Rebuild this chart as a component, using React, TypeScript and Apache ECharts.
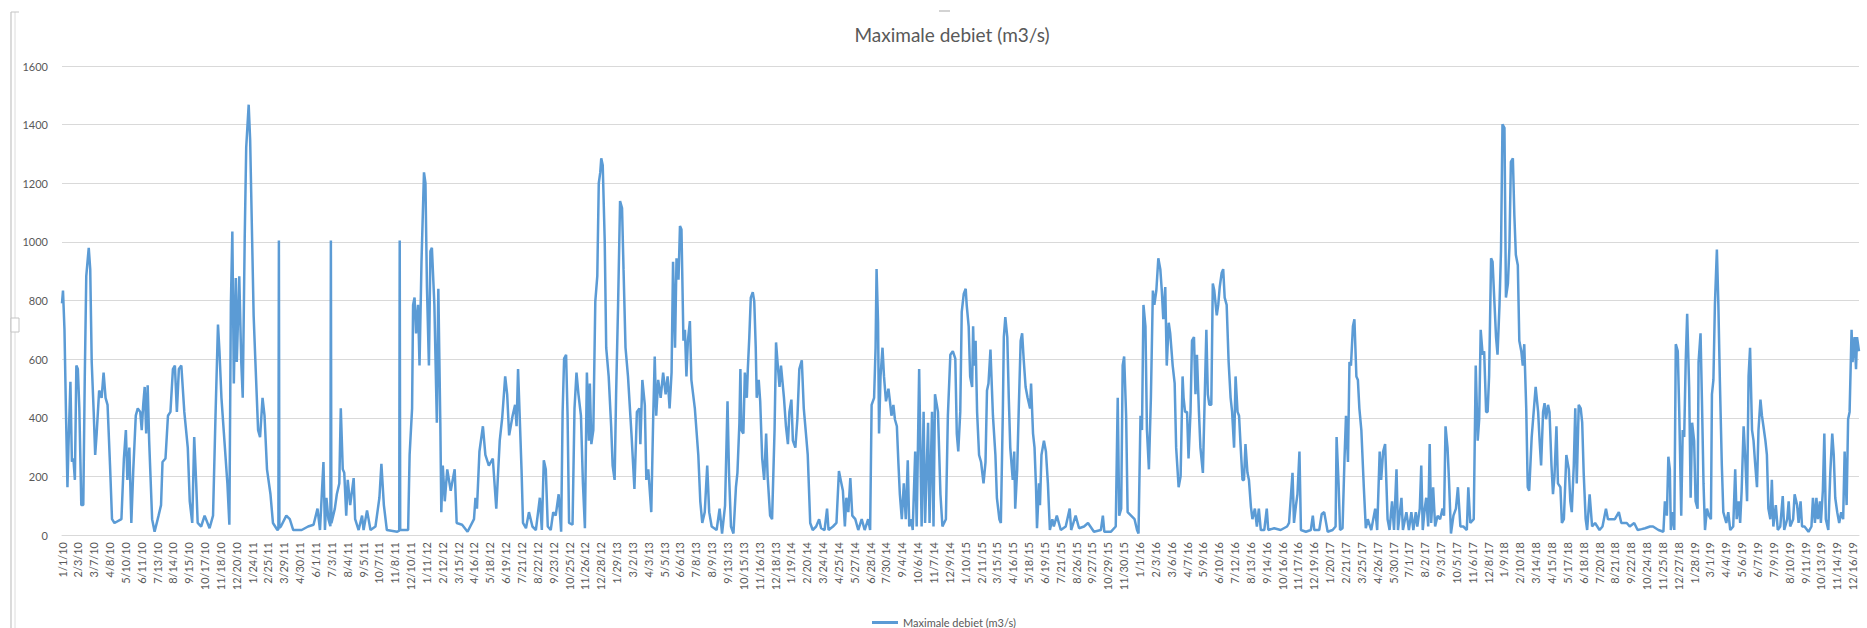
import { useEffect, useRef } from "react";
import * as echarts from "echarts";

// X-axis tick labels (every 32nd data row is labelled, as in the source sheet)
const tickLabels: string[] = [
  "1/1/10", "2/3/10", "3/7/10", "4/8/10", "5/10/10", "6/11/10", "7/13/10", "8/14/10", "9/15/10", "10/17/10", "11/18/10", "12/20/10",
  "1/24/11", "2/25/11", "3/29/11", "4/30/11", "6/1/11", "7/3/11", "8/4/11", "9/5/11", "10/7/11", "11/8/11", "12/10/11",
  "1/11/12", "2/12/12", "3/15/12", "4/16/12", "5/18/12", "6/19/12", "7/21/12", "8/22/12", "9/23/12", "10/25/12", "11/26/12", "12/28/12",
  "1/29/13", "3/2/13", "4/3/13", "5/5/13", "6/6/13", "7/8/13", "8/9/13", "9/13/13", "10/15/13", "11/16/13", "12/18/13",
  "1/19/14", "2/20/14", "3/24/14", "4/25/14", "5/27/14", "6/28/14", "7/30/14", "9/4/14", "10/6/14", "11/7/14", "12/9/14",
  "1/10/15", "2/11/15", "3/15/15", "4/16/15", "5/18/15", "6/19/15", "7/21/15", "8/26/15", "9/27/15", "10/29/15", "11/30/15",
  "1/1/16", "2/3/16", "3/6/16", "4/7/16", "5/9/16", "6/10/16", "7/12/16", "8/13/16", "9/14/16", "10/16/16", "11/17/16", "12/19/16",
  "1/20/17", "2/21/17", "3/25/17", "4/26/17", "5/30/17", "7/1/17", "8/2/17", "9/3/17", "10/5/17", "11/6/17", "12/8/17",
  "1/9/18", "2/10/18", "3/14/18", "4/15/18", "5/17/18", "6/18/18", "7/20/18", "8/21/18", "9/22/18", "10/24/18", "11/25/18", "12/27/18",
  "1/28/19", "3/1/19", "4/4/19", "5/6/19", "6/7/19", "7/9/19", "8/10/19", "9/11/19", "10/13/19", "11/14/19", "12/16/19",
];
const rowsPerTick = 32;
const rowCount = 3630;

const seriesName = "Maximale debiet (m3/s)";

// [data row, max discharge m3/s]
const flow2010: [number, number][] = [
  [0, 790], [2, 834], [5, 700], [8, 420], [11, 163], [13, 300], [17, 523], [20, 250], [23, 261], [26, 188], [29, 578], [32, 566],
  [35, 432], [39, 102], [43, 102], [46, 541], [49, 883], [54, 980], [57, 907], [60, 590], [64, 420], [67, 273], [70, 346], [75, 493],
  [80, 468], [84, 554], [88, 468], [92, 444], [97, 237], [101, 54], [106, 41], [120, 54], [125, 261], [129, 358], [132, 188], [136, 298],
  [140, 41], [144, 224], [149, 407], [153, 432], [158, 420], [161, 358], [164, 444], [167, 505], [170, 346], [173, 511], [176, 322],
  [182, 54], [187, 11], [195, 66], [200, 102], [203, 249], [209, 261], [214, 407], [219, 420], [224, 566], [228, 578], [232, 420],
  [236, 566], [241, 578], [247, 420], [254, 298], [258, 115], [263, 41], [267, 334], [271, 176], [274, 41], [281, 29], [288, 66],
  [298, 23], [305, 66], [310, 407], [315, 718], [318, 627], [322, 468], [327, 346], [334, 176], [338, 35], [341, 785], [344, 1035],
  [347, 517], [351, 877], [353, 590], [358, 883], [362, 590],
];
const flow2011: [number, number][] = [
  [365, 468], [369, 1017], [372, 1322], [377, 1468], [380, 1346], [384, 1005], [387, 749], [390, 615], [396, 358], [400, 334],
  [405, 468], [409, 407], [414, 224], [421, 139], [426, 41], [435, 17], [437, 20], [438, 1005], [439, 25], [442, 29], [453, 66],
  [460, 54], [467, 17], [484, 17], [497, 29], [508, 35], [516, 90], [521, 17], [528, 249], [531, 17], [534, 127], [538, 54],
  [542, 30], [543, 1005], [544, 40], [546, 54], [551, 90], [555, 139], [560, 176], [563, 432], [567, 224], [570, 212], [574, 66],
  [577, 188], [582, 102], [589, 194], [592, 54], [599, 17], [606, 66], [609, 17], [616, 84], [623, 17], [633, 29], [641, 127],
  [645, 243], [650, 102], [656, 17], [677, 11], [681, 15], [682, 1005], [683, 17], [699, 17], [702, 273], [707, 432], [709, 785],
  [712, 810], [715, 688], [719, 785], [722, 578],
];
const flow2012: [number, number][] = [
  [726, 932], [731, 1237], [734, 1200], [737, 846], [741, 578], [744, 968], [747, 980], [752, 785], [757, 383], [760, 840],
  [764, 383], [766, 78], [769, 237], [773, 115], [778, 224], [785, 151], [793, 224], [797, 41], [808, 35], [819, 11], [832, 54],
  [835, 127], [838, 90], [843, 285], [850, 371], [855, 273], [862, 237], [870, 261], [877, 90], [884, 322], [889, 400], [895, 541],
  [899, 480], [903, 340], [910, 407], [915, 444], [918, 371], [921, 566], [924, 420], [928, 224], [931, 41], [937, 23], [943, 78],
  [950, 29], [957, 17], [965, 127], [969, 17], [973, 255], [977, 224], [981, 29], [987, 17], [992, 78], [997, 66], [1003, 139],
  [1008, 11], [1011, 420], [1014, 602], [1018, 615], [1021, 407], [1024, 41], [1031, 35], [1035, 432], [1039, 554], [1043, 480],
  [1048, 407], [1052, 176], [1056, 23], [1058, 298], [1060, 554], [1064, 322], [1066, 517], [1069, 310], [1073, 358], [1077, 797],
  [1081, 883], [1084, 1200], [1087, 1237], [1089, 1285],
];
const flow2013: [number, number][] = [
  [1092, 1261], [1096, 1005], [1099, 639], [1104, 541], [1109, 371], [1112, 237], [1116, 188], [1119, 480], [1123, 785], [1127, 1139],
  [1131, 1115], [1134, 907], [1138, 639], [1143, 541], [1150, 346], [1156, 157], [1161, 420], [1166, 432], [1168, 310], [1172, 529],
  [1177, 444], [1180, 188], [1184, 224], [1190, 78], [1194, 407], [1197, 609], [1200, 407], [1204, 529], [1209, 468], [1214, 554],
  [1219, 480], [1223, 541], [1227, 432], [1231, 554], [1234, 932], [1238, 639], [1241, 944], [1245, 871], [1248, 1054], [1251, 1042],
  [1255, 663], [1258, 700], [1261, 541], [1264, 663], [1268, 730], [1271, 529], [1278, 432], [1285, 273], [1289, 115], [1293, 41],
  [1298, 78], [1303, 237], [1307, 78], [1312, 29], [1322, 17], [1328, 90], [1333, 5], [1339, 100], [1344, 456], [1347, 212],
  [1351, 29], [1356, 5], [1361, 163], [1364, 212], [1368, 383], [1370, 566], [1372, 358], [1376, 346], [1379, 554], [1383, 468],
  [1385, 566], [1388, 675], [1391, 810], [1395, 828], [1398, 797], [1401, 639], [1403, 468], [1407, 529], [1410, 456], [1414, 261],
  [1418, 188], [1422, 346], [1425, 200], [1430, 66], [1434, 54], [1439, 358], [1442, 657], [1445, 590], [1449, 505], [1452, 578],
];
const flow2014: [number, number][] = [
  [1458, 468], [1462, 371], [1466, 310], [1469, 420], [1473, 462], [1476, 322], [1481, 298], [1485, 395], [1489, 566], [1494, 596],
  [1498, 432], [1503, 334], [1506, 273], [1511, 41], [1516, 17], [1523, 29], [1529, 54], [1533, 23], [1540, 17], [1545, 90],
  [1548, 17], [1557, 29], [1564, 41], [1569, 218], [1574, 176], [1577, 151], [1581, 29], [1584, 127], [1588, 78], [1592, 194],
  [1596, 66], [1602, 54], [1608, 17], [1615, 54], [1621, 17], [1628, 54], [1632, 17], [1635, 444], [1640, 468], [1643, 639],
  [1645, 907], [1648, 724], [1650, 346], [1653, 541], [1657, 639], [1660, 541], [1664, 456], [1669, 499], [1672, 456], [1675, 407],
  [1679, 444], [1682, 395], [1686, 371], [1689, 249], [1692, 139], [1696, 54], [1700, 176], [1704, 54], [1708, 255], [1711, 29],
  [1715, 54], [1718, 17], [1723, 285], [1726, 29], [1731, 566], [1736, 29], [1740, 420], [1743, 41], [1749, 383], [1752, 41],
  [1757, 420], [1760, 29], [1763, 480], [1769, 420], [1774, 139], [1778, 29], [1785, 54], [1789, 407], [1794, 615], [1799, 627],
  [1804, 602], [1807, 346], [1810, 285], [1814, 420],
];
const flow2015: [number, number][] = [
  [1817, 761], [1821, 822], [1825, 840], [1827, 785], [1831, 712], [1834, 541], [1838, 505], [1840, 712], [1842, 578], [1845, 663],
  [1848, 420], [1852, 273], [1856, 249], [1861, 176], [1865, 249], [1868, 493], [1871, 517], [1875, 633], [1877, 541], [1880, 407],
  [1885, 273], [1888, 127], [1893, 54], [1896, 41], [1900, 420], [1902, 675], [1905, 743], [1909, 675], [1912, 468], [1915, 298],
  [1920, 188], [1923, 285], [1925, 90], [1929, 224], [1932, 420], [1936, 663], [1939, 688], [1942, 602], [1946, 505], [1950, 468],
  [1955, 432], [1957, 517], [1961, 346], [1964, 298], [1967, 163], [1969, 23], [1973, 176], [1975, 102], [1978, 273], [1983, 322],
  [1987, 285], [1991, 176], [1995, 17], [2000, 54], [2003, 29], [2009, 66], [2017, 17], [2027, 29], [2035, 90], [2038, 17],
  [2047, 66], [2054, 23], [2064, 29], [2072, 41], [2084, 11], [2098, 17], [2102, 66], [2105, 11], [2118, 11], [2128, 29],
  [2132, 468], [2135, 66], [2139, 90], [2142, 578], [2145, 609], [2149, 407], [2152, 78], [2159, 66], [2166, 54], [2171, 17], [2174, 5],
];
const flow2016: [number, number][] = [
  [2178, 407], [2181, 358], [2184, 785], [2188, 712], [2191, 358], [2195, 224], [2199, 468], [2203, 834], [2206, 785], [2210, 834],
  [2214, 944], [2218, 907], [2221, 834], [2224, 736], [2228, 846], [2231, 578], [2235, 724], [2238, 688], [2243, 578], [2247, 517],
  [2250, 298], [2255, 163], [2259, 200], [2263, 541], [2265, 468], [2268, 420], [2272, 420], [2275, 261], [2279, 420], [2282, 663],
  [2286, 675], [2289, 480], [2292, 615], [2296, 420], [2299, 298], [2304, 212], [2307, 420], [2311, 700], [2314, 480], [2317, 444],
  [2321, 444], [2324, 858], [2327, 834], [2332, 749], [2335, 785], [2338, 846], [2342, 895], [2345, 907], [2348, 810], [2352, 785],
  [2356, 590], [2360, 468], [2363, 420], [2367, 298], [2370, 541], [2374, 420], [2377, 407], [2380, 310], [2384, 188], [2387, 188],
  [2390, 310], [2394, 212], [2397, 188], [2401, 96], [2404, 54], [2409, 90], [2413, 29], [2417, 90], [2421, 17], [2428, 17],
  [2433, 90], [2436, 17], [2448, 23], [2461, 17], [2474, 29], [2478, 41], [2482, 139], [2485, 212], [2488, 41], [2492, 102],
  [2495, 139], [2499, 285], [2502, 17], [2512, 11], [2522, 17], [2526, 66], [2529, 17], [2539, 17],
];
const flow2017: [number, number][] = [
  [2544, 72], [2549, 78], [2556, 11], [2566, 17], [2572, 29], [2574, 334], [2578, 176], [2581, 17], [2586, 23], [2590, 261],
  [2593, 407], [2597, 249], [2600, 590], [2603, 578], [2607, 712], [2610, 736], [2614, 541], [2617, 529], [2620, 432], [2624, 358],
  [2629, 163], [2633, 23], [2637, 54], [2644, 17], [2652, 90], [2656, 17], [2661, 285], [2664, 188], [2668, 285], [2672, 310],
  [2677, 54], [2681, 17], [2686, 115], [2690, 17], [2695, 224], [2698, 17], [2705, 127], [2708, 17], [2715, 78], [2720, 17],
  [2725, 78], [2729, 17], [2734, 78], [2737, 29], [2742, 90], [2745, 237], [2748, 17], [2752, 90], [2755, 127], [2759, 29],
  [2762, 310], [2765, 41], [2769, 163], [2773, 29], [2778, 66], [2783, 54], [2788, 90], [2791, 66], [2794, 371], [2798, 298],
  [2801, 188], [2805, 5], [2810, 66], [2815, 90], [2819, 163], [2824, 29], [2830, 29], [2837, 17], [2840, 163], [2844, 41],
  [2851, 54], [2855, 578], [2859, 322], [2862, 395], [2865, 700], [2869, 615], [2872, 627], [2876, 420], [2879, 420], [2882, 541],
  [2886, 944], [2889, 932], [2893, 785], [2896, 675], [2899, 615], [2903, 785],
];
const flow2018: [number, number][] = [
  [2906, 968], [2909, 1401], [2913, 1389], [2916, 810], [2920, 858], [2923, 980], [2926, 1273], [2930, 1285], [2933, 1090], [2936, 956],
  [2940, 920], [2943, 663], [2947, 627], [2950, 578], [2953, 651], [2957, 432], [2960, 163], [2963, 151], [2968, 334], [2972, 420],
  [2976, 505], [2981, 420], [2984, 322], [2987, 237], [2991, 420], [2994, 450], [2997, 395], [3001, 444], [3004, 420], [3008, 237],
  [3011, 139], [3014, 200], [3018, 371], [3021, 176], [3026, 163], [3029, 41], [3033, 54], [3038, 273], [3043, 224], [3046, 115],
  [3049, 78], [3053, 237], [3056, 432], [3059, 176], [3063, 444], [3067, 432], [3070, 383], [3073, 212], [3077, 54], [3080, 17],
  [3085, 139], [3090, 29], [3096, 41], [3105, 17], [3111, 29], [3118, 90], [3122, 54], [3136, 54], [3144, 78], [3149, 41],
  [3160, 41], [3166, 29], [3175, 41], [3182, 17], [3190, 20], [3197, 23], [3207, 29], [3213, 29], [3224, 17], [3234, 11],
  [3237, 115], [3241, 66], [3244, 267], [3247, 224], [3249, 17], [3253, 78], [3256, 17], [3259, 651], [3263, 627], [3266, 420],
];
const flow2019: [number, number][] = [
  [3270, 66], [3273, 358], [3276, 334], [3279, 590], [3282, 755], [3286, 505], [3289, 127], [3292, 383], [3296, 322], [3299, 115],
  [3303, 90], [3305, 590], [3309, 688], [3312, 444], [3315, 176], [3318, 17], [3322, 90], [3326, 66], [3330, 54], [3332, 480],
  [3335, 529], [3338, 785], [3342, 974], [3345, 785], [3348, 529], [3352, 237], [3355, 78], [3361, 41], [3365, 78], [3369, 17],
  [3375, 29], [3379, 224], [3382, 54], [3386, 115], [3389, 41], [3392, 151], [3396, 371], [3399, 273], [3403, 115], [3406, 541],
  [3409, 639], [3413, 358], [3416, 322], [3419, 249], [3423, 163], [3426, 358], [3430, 462], [3433, 407], [3436, 371], [3440, 322],
  [3443, 273], [3446, 90], [3450, 54], [3453, 188], [3456, 29], [3461, 102], [3465, 17], [3470, 29], [3475, 133], [3478, 17],
  [3484, 54], [3487, 115], [3490, 29], [3496, 54], [3499, 139], [3504, 102], [3507, 41], [3511, 115], [3514, 29], [3519, 29],
  [3527, 11], [3533, 29], [3536, 127], [3540, 41], [3543, 127], [3546, 54], [3550, 115], [3552, 41], [3556, 151], [3559, 346],
  [3562, 54], [3567, 17], [3571, 212], [3575, 346], [3578, 273], [3581, 127], [3585, 78], [3589, 41], [3593, 78], [3597, 54],
  [3600, 285], [3604, 102], [3607, 395], [3610, 420], [3614, 700], [3616, 590], [3620, 675], [3623, 566], [3625, 675], [3629, 627],
];

const yTicks = { min: 0, max: 1600, interval: 200 };

function buildCategories(): string[] {
  const out: string[] = [];
  for (let i = 0; i < rowCount; i++) {
    const t = Math.floor(i / rowsPerTick);
    const [m, d, y] = tickLabels[t].split("/").map(Number);
    const dt = new Date(Date.UTC(2000 + y, m - 1, d + (i % rowsPerTick)));
    out.push(`${dt.getUTCMonth() + 1}/${dt.getUTCDate()}/${String(dt.getUTCFullYear() % 100).padStart(2, "0")}`);
  }
  return out;
}

export default function App() {
  const ref = useRef<HTMLDivElement>(null);
  useEffect(() => {
    if (!ref.current) return;
    const chart = echarts.init(ref.current, undefined, { renderer: "svg" });
    const data = [
      ...flow2010, ...flow2011, ...flow2012, ...flow2013, ...flow2014,
      ...flow2015, ...flow2016, ...flow2017, ...flow2018, ...flow2019,
    ].sort((a, b) => a[0] - b[0]);
    const font = "Lato, 'Noto Sans', sans-serif";
    const frame = "#c4c4c4";
    chart.setOption({
      animation: false,
      backgroundColor: "#ffffff",
      textStyle: { fontFamily: font },
      title: {
        text: seriesName,
        left: 947,
        top: 20,
        textAlign: "center",
        textStyle: { fontSize: 19, fontWeight: "normal", color: "#595959", fontFamily: font },
      },
      legend: {
        data: [seriesName],
        left: 867,
        top: 612,
        icon: "rect",
        itemWidth: 26,
        itemHeight: 3,
        itemGap: 4,
        textStyle: { fontSize: 11, color: "#595959", fontFamily: font },
      },
      graphic: [
        // selection frame remnants at the left edge and top of the screenshot
        { type: "line", shape: { x1: 11, y1: 12, x2: 11, y2: 628 }, style: { stroke: frame, lineWidth: 1.2 } },
        { type: "line", shape: { x1: 15, y1: 12, x2: 15, y2: 628 }, style: { stroke: "#dcdcdc", lineWidth: 1 } },
        { type: "line", shape: { x1: 11, y1: 12, x2: 19, y2: 12 }, style: { stroke: frame, lineWidth: 1 } },
        { type: "rect", shape: { x: 11, y: 318, width: 8, height: 14 }, style: { fill: "#ffffff", stroke: frame, lineWidth: 1 } },
        { type: "line", shape: { x1: 939, y1: 11, x2: 950, y2: 11 }, style: { stroke: frame, lineWidth: 1.5 } },
      ],
      grid: { left: 62, right: 8, top: 66, bottom: 93, containLabel: false },
      xAxis: {
        type: "category",
        data: buildCategories(),
        boundaryGap: false,
        axisTick: { show: false },
        axisLine: { show: true, lineStyle: { color: "#d9d9d9", width: 1 } },
        axisLabel: {
          interval: rowsPerTick - 1,
          rotate: 90,
          fontSize: 11,
          color: "#595959",
          margin: 7,
          hideOverlap: false,
          fontFamily: font,
        },
        splitLine: { show: false },
      },
      yAxis: {
        type: "value",
        min: yTicks.min,
        max: yTicks.max,
        interval: yTicks.interval,
        axisLine: { show: false },
        axisTick: { show: false },
        axisLabel: {
          fontSize: 11,
          color: "#595959",
          margin: 14,
          fontFamily: font,
          formatter: (v: number) => String(v),
        },
        splitLine: { lineStyle: { color: "#d9d9d9", width: 1 } },
      },
      series: [
        {
          type: "line",
          name: seriesName,
          data,
          showSymbol: false,
          symbol: "none",
          lineStyle: { color: "#5b9bd5", width: 2.5 },
          itemStyle: { color: "#5b9bd5" },
        },
      ],
    });
    return () => chart.dispose();
  }, []);
  return (
    <div
      ref={ref}
      style={{ position: "fixed", left: 0, top: 0, width: 1867, height: 628, background: "#fff" }}
    />
  );
}
